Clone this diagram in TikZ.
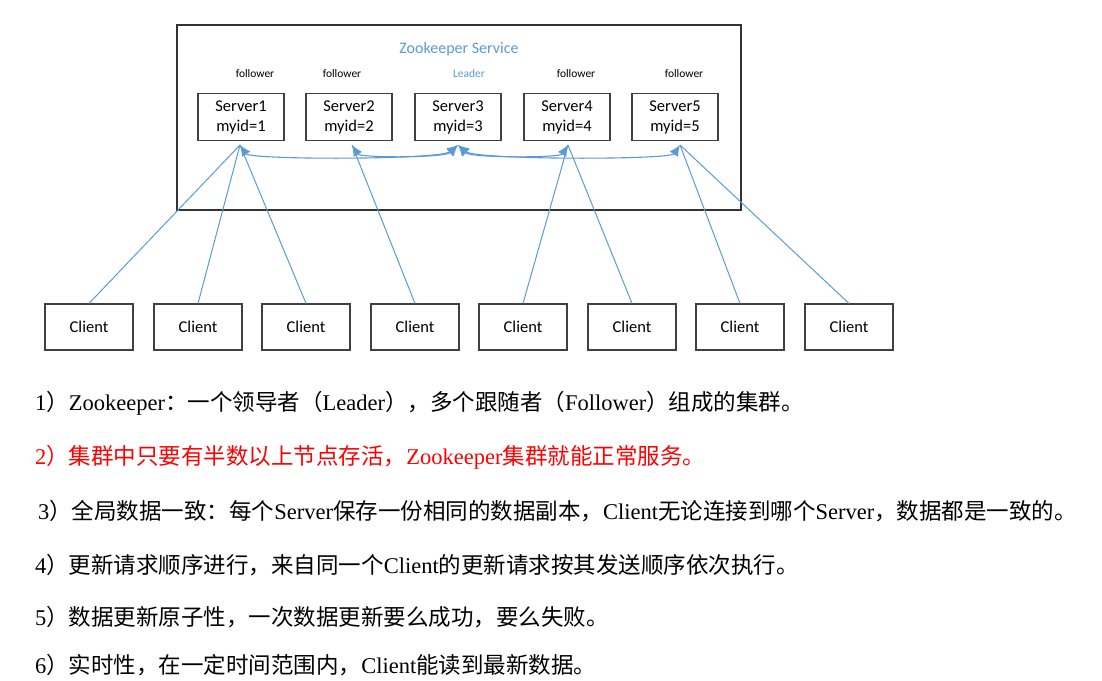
\documentclass[tikz,border=0pt]{standalone}
\usepackage{fontspec}
\setmainfont{Liberation Serif}
\newfontfamily\cjk{Noto Sans CJK SC}
\newfontfamily\sans{Carlito}
\usetikzlibrary{arrows.meta}
\definecolor{lb}{RGB}{91,155,213}
\tikzset{
  srv/.style={draw=black!75,line width=1.1pt,minimum width=86pt,minimum height=47pt,align=center,font=\sans\fontsize{16.5}{20}\selectfont,inner sep=0pt},
  cli/.style={draw=black!75,line width=1.1pt,minimum width=88pt,minimum height=46pt,font=\sans\fontsize{16.5}{18}\selectfont},
  lk/.style={draw=lb,line width=1pt},
  ring/.style={draw=lb,line width=1.1pt,{Latex[length=11pt,width=10pt]}-{Latex[length=11pt,width=10pt]}},
  role/.style={font=\sans\fontsize{11.5}{12}\selectfont},
  txt/.style={anchor=west,font=\fontsize{22.5}{26}\selectfont,inner sep=0pt}
}
\begin{document}
\begin{tikzpicture}[x=1pt,y=-1pt]
\useasboundingbox (0,0) rectangle (1102,680);
\draw[black!80,line width=1.1pt] (177,25) rectangle (741,210);
\node[font=\sans\fontsize{16}{18}\selectfont,text=lb] (title) at (459,49) {Zookeeper Service};
\foreach \i/\x in {1/241,2/349,3/458,4/567,5/675}{
  \node[srv] (s\i) at (\x,117) {Server\i\\myid=\i};
}
\node[role] (r1) at (255,74) {follower};
\node[role] (r2) at (342,74) {follower};
\node[role,text=lb] (r3) at (469,74) {Leader};
\node[role] (r4) at (576,74) {follower};
\node[role] (r5) at (684,74) {follower};
\foreach \i/\x in {1/89,2/198,3/306,4/415,5/523,6/632,7/740,8/849}{
  \node[cli] (c\i) at (\x,327) {Client};
}
\coordinate (b1) at (240,145); \coordinate (b2) at (352,145);
\coordinate (b3) at (458,145); \coordinate (b4) at (568,145);
\coordinate (b5) at (680,145);
\draw[lk] (c1.north) -- (b1); \draw[lk] (c2.north) -- (b1); \draw[lk] (c3.north) -- (b1);
\draw[lk] (c4.north) -- (b2); \draw[lk] (c5.north) -- (b4); \draw[lk] (c6.north) -- (b4);
\draw[lk] (c7.north) -- (b5); \draw[lk] (c8.north) -- (b5);
\draw[ring] (b1) .. controls (250,160) and (440,160) .. (b3);
\draw[ring] (b2) .. controls (360,158) and (445,158) .. (b3);
\draw[ring] (b4) .. controls (560,158) and (470,158) .. (b3);
\draw[ring] (b5) .. controls (670,160) and (476,160) .. (b3);
\node[txt] (t1) at (35,403) {1{\cjk ）}Zookeeper{\cjk ：一个领导者（}Leader{\cjk ），多个跟随者（}Follower{\cjk ）组成的集群。}};
\node[txt,text=red] (t2) at (35,457) {2{\cjk ）集群中只要有半数以上节点存活，}Zookeeper{\cjk 集群就能正常服务。}};
\node[txt] (t3) at (38,511) {3{\cjk ）全局数据一致：每个}Server{\cjk 保存一份相同的数据副本，}Client{\cjk 无论连接到哪个}Server{\cjk ，数据都是一致的。}};
\node[txt] (t4) at (35,565) {4{\cjk ）更新请求顺序进行，来自同一个}Client{\cjk 的更新请求按其发送顺序依次执行。}};
\node[txt] (t5) at (35,617) {5{\cjk ）数据更新原子性，一次数据更新要么成功，要么失败。}};
\node[txt] (t6) at (35,665) {6{\cjk ）实时性，在一定时间范围内，}Client{\cjk 能读到最新数据。}};
\end{tikzpicture}
\end{document}
